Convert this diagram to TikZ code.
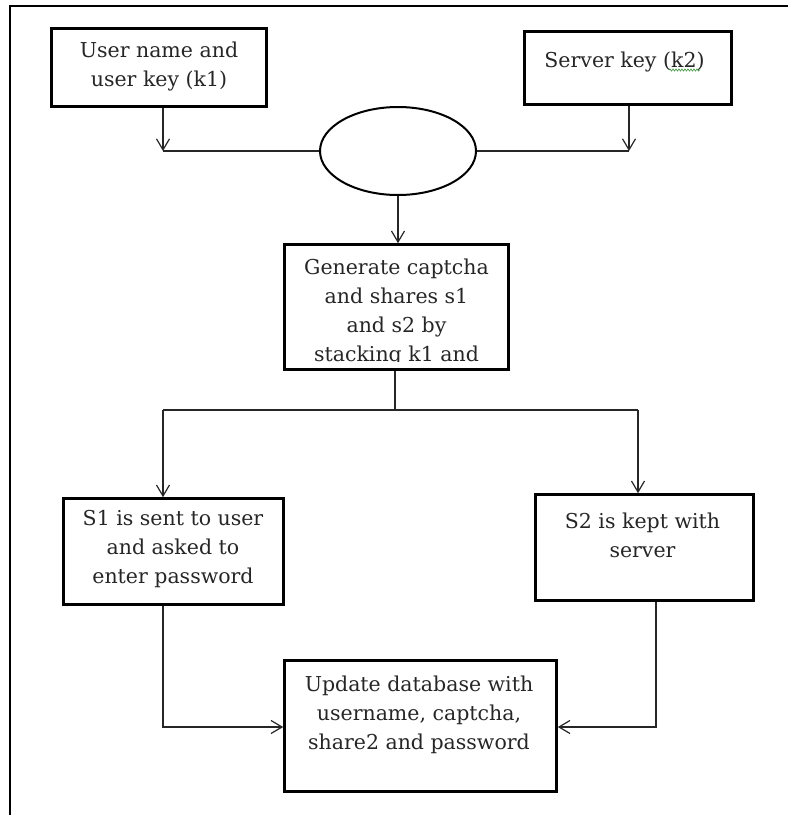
\documentclass[tikz,border=0pt]{standalone}
\usepackage{fontspec}
\setmainfont{DejaVu Serif}
\usetikzlibrary{arrows.meta,shapes.geometric,decorations.pathmorphing}

\begin{document}
\begin{tikzpicture}[x=1pt,y=-1pt,
  box/.style={draw=black, line width=2.6pt, rectangle, inner sep=0pt},
  txt/.style={align=center, inner sep=0pt, anchor=north, text=black!85,
              font=\fontsize{20.5}{29}\selectfont},
  link/.style={draw=black!85, line width=1.2pt},
  arr/.style={link, -{Straight Barb[length=11pt,width=13pt,line width=1.2pt]}}
]
\useasboundingbox (0,0) rectangle (788,815);

% page frame (top and left edges)
\draw[line width=2pt] (788,5.7) -- (9.7,5.7) -- (9.7,816);

% boxes
\node[box, minimum width=215pt, minimum height=78pt]  (b1) at (159,67.5) {};
\node[box, minimum width=207pt, minimum height=73pt]  (b2) at (628,68) {};
\node[draw=black, line width=2pt, ellipse, minimum width=156pt, minimum height=88pt, inner sep=0pt] (el) at (398,151) {};
\node[box, minimum width=224pt, minimum height=125pt] (b3) at (396.5,307) {};
\node[box, minimum width=220pt, minimum height=106pt] (b4) at (173.5,551.5) {};
\node[box, minimum width=218pt, minimum height=106pt] (b5) at (644.5,547.5) {};
\node[box, minimum width=272pt, minimum height=131pt] (b6) at (420.5,726) {};

% box texts
\node[txt] (t1) at (159,36.7) {\strut User name and\\ user key (k1)};
\node[txt] (t2) at (624.5,46.7) {\strut Server key (k2)};
\begin{scope}
  \clip (286,246) rectangle (507,361);
  \node[txt] (t3) at (396.5,253.7) {\strut Generate captcha\\ and shares s1\\ and s2 by\\ stacking k1 and};
\end{scope}
\node[txt] (t4) at (173,504.7) {\strut S1 is sent to user\\ and asked to\\ enter password};
\node[txt] (t5) at (642.5,507.7) {\strut S2 is kept with\\ server};
\node[txt] (t6) at (419,670.7) {\strut Update database with\\ username, captcha,\\ share2 and password};

% spelling squiggle under k2
\draw[green!45!black, opacity=0.7, line width=0.7pt,
      decorate, decoration={snake, amplitude=1pt, segment length=3pt}]
  (669,70) -- (700,70);

% junction points
\coordinate (j1) at (163,151);
\coordinate (j2) at (629,151);
\coordinate (j3) at (395,410);
\coordinate (j4) at (163,410);
\coordinate (j5) at (638,410);
\coordinate (j6) at (163,727);
\coordinate (j7) at (656,727);

% keys into the combiner
\draw[arr] (b1.south -| j1) -- (j1);
\draw[link] (j1) -- (el.west);
\draw[arr] (b2.south -| j2) -- (j2);
\draw[link] (el.east) -- (j2);
\draw[arr] (el.south) -- (el.south |- b3.north);

% split into the two shares
\draw[link] (b3.south -| j3) -- (j3);
\draw[link] (j4) -- (j5);
\draw[arr] (j4) -- (j4 |- b4.north);
\draw[arr] (j5) -- (j5 |- b5.north);

% both shares into the database update
\draw[arr] (b4.south -| j6) -- (j6) -- (j6 -| b6.west);
\draw[arr] (b5.south -| j7) -- (j7) -- (j7 -| b6.east);
\end{tikzpicture}
\end{document}
